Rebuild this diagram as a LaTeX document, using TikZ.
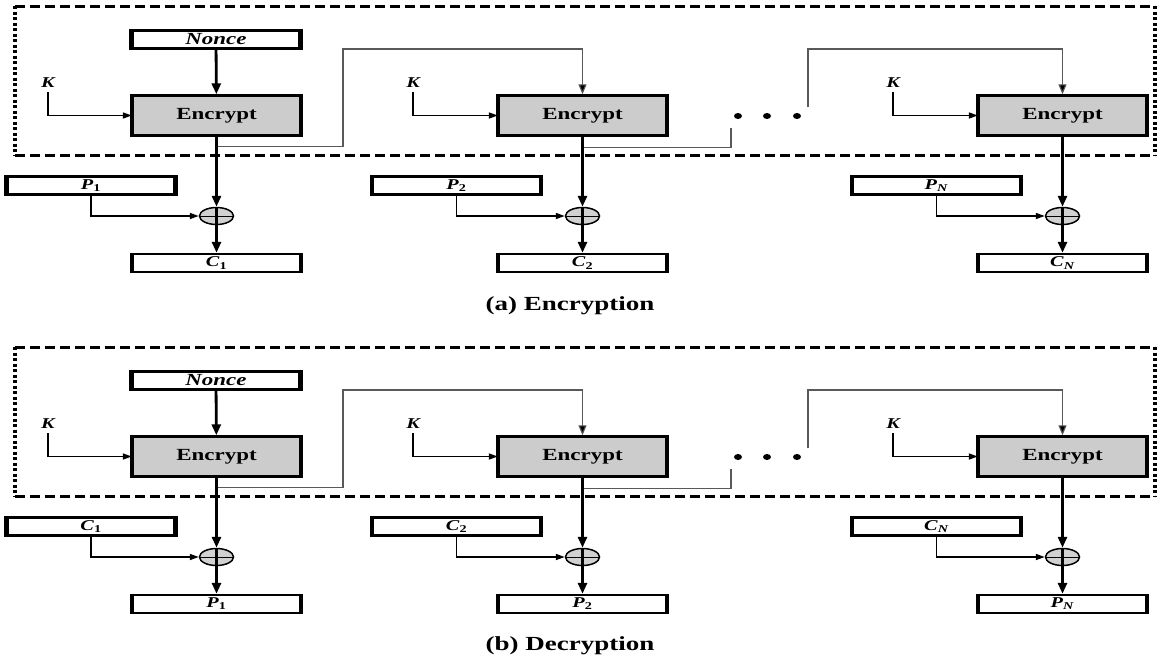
\documentclass[tikz,border=0pt]{standalone}
\usepackage{fontspec}
\setmainfont{Liberation Serif}[FakeStretch=1.35]
\usepackage{tikz}
\usetikzlibrary{arrows.meta, positioning, shapes.geometric, calc}

\begin{document}
\begin{tikzpicture}[x=1pt, y=-1pt,
  box/.style={draw, line width=2.4pt, minimum width=167pt, minimum height=18pt, inner sep=0pt,
    font=\fontsize{15}{15}\selectfont\bfseries,
    append after command={(\tikzlastnode.north west) edge[draw, line width=4pt] (\tikzlastnode.south west)
      (\tikzlastnode.north east) edge[draw, line width=4pt] (\tikzlastnode.south east)}},
  noncebox/.style={box, font=\fontsize{17}{17}\selectfont\bfseries\itshape},
  encbox/.style={box, fill=black!20, minimum height=40pt, font=\fontsize{17}{17}\selectfont\bfseries},
  xor/.style={ellipse, draw, line width=1.5pt, fill=black!18, minimum width=34pt, minimum height=17pt,
    inner sep=0pt, path picture={\draw[line width=1pt] (path picture bounding box.west) -- (path picture bounding box.east);}},
  klabel/.style={font=\fontsize{15}{15}\selectfont\bfseries\itshape, inner sep=1pt},
  caption/.style={font=\fontsize{20}{20}\selectfont\bfseries},
  dot/.style={ellipse, fill, inner sep=0pt, minimum width=8pt, minimum height=6pt},
  arr/.style={-{Triangle[length=9pt, width=6pt]}, line width=1.6pt},
  bigarr/.style={-{Triangle[length=11pt, width=9pt]}, line width=2.8pt},
  chainline/.style={draw=black!65, line width=1.1pt},
  chain/.style={chainline, -{Triangle[length=10pt, width=8pt, fill=black]}},
  frame/.style={line width=3pt, dash pattern=on 10pt off 5pt},
  frameside/.style={line width=4pt, dash pattern=on 3pt off 2.5pt},
]
\useasboundingbox (0,0) rectangle (1159,656);

% ===== (a) Encryption =====
\draw[frame] (15,6) -- (1155,6);
\draw[frame] (15,155) -- (1155,155);
\draw[frameside] (15,6) -- (15,155);
\draw[frameside] (1155,6) -- (1155,155);

\node[noncebox] (en) at (216,39.5) {Nonce};

\node[encbox] (ee1) at (216.5,115.5) {Encrypt};
\node[encbox] (ee2) at (582.5,115.5) {Encrypt};
\node[encbox] (ee3) at (1062.5,115.5) {Encrypt};

\node[klabel] (ek1) at (48,83) {K};
\node[klabel] (ek2) at (413,83) {K};
\node[klabel] (ek3) at (893,83) {K};

\node[box] (ep1) at (91,185.5) {\textit{P}\textsubscript{1}};
\node[box] (ep2) at (456.5,185.5) {\textit{P}\textsubscript{2}};
\node[box] (ep3) at (936.5,185.5) {\textit{P}\textsubscript{\textit{N}}};

\node[xor] (ex1) at (216.5,216) {};
\node[xor] (ex2) at (582.5,216) {};
\node[xor] (ex3) at (1062.5,216) {};

\node[box] (ec1) at (216.5,263) {\textit{C}\textsubscript{1}};
\node[box] (ec2) at (582.5,263) {\textit{C}\textsubscript{2}};
\node[box] (ec3) at (1062.5,263) {\textit{C}\textsubscript{\textit{N}}};

\node[dot] (ed1) at (738,116) {};
\node[dot] (ed2) at (767,116) {};
\node[dot] (ed3) at (797,116) {};

\coordinate (ej1) at (343,49);
\coordinate (ej2) at (731,128);
\coordinate (ej3) at (808,107);
\coordinate (ej4) at (808,49);

\draw[bigarr] (en) -- (ee1);
\draw[arr] ([yshift=-3pt]ek1.south) |- (ee1.west);
\draw[arr] ([yshift=-3pt]ek2.south) |- (ee2.west);
\draw[arr] ([yshift=-3pt]ek3.south) |- (ee3.west);

% counter chain
\draw[chain] ([yshift=-10pt]ee1.south) -| (ej1) -| (ee2.north);
\draw[chainline] ([yshift=-11pt]ee2.south) -| (ej2);
\draw[chain] (ej3) -- (ej4) -| (ee3.north);

\draw[bigarr] (ee1) -- (ex1);
\draw[bigarr] (ee2) -- (ex2);
\draw[bigarr] (ee3) -- (ex3);
\draw[bigarr] (ex1.north) -- (ec1);
\draw[bigarr] (ex2.north) -- (ec2);
\draw[bigarr] (ex3.north) -- (ec3);

\draw[arr] (ep1.south) |- (ex1.west);
\draw[arr] (ep2.south) |- (ex2.west);
\draw[arr] (ep3.south) |- (ex3.west);

\node[caption] (ecap) at (570,306) {(a) Encryption};

% ===== (b) Decryption =====
\draw[frame] (15,347) -- (1155,347);
\draw[frame] (15,496) -- (1155,496);
\draw[frameside] (15,347) -- (15,496);
\draw[frameside] (1155,347) -- (1155,496);

\node[noncebox] (dn) at (216,380.5) {Nonce};

\node[encbox] (de1) at (216.5,456.5) {Encrypt};
\node[encbox] (de2) at (582.5,456.5) {Encrypt};
\node[encbox] (de3) at (1062.5,456.5) {Encrypt};

\node[klabel] (dk1) at (48,424) {K};
\node[klabel] (dk2) at (413,424) {K};
\node[klabel] (dk3) at (893,424) {K};

\node[box] (dc1) at (91,526.5) {\textit{C}\textsubscript{1}};
\node[box] (dc2) at (456.5,526.5) {\textit{C}\textsubscript{2}};
\node[box] (dc3) at (936.5,526.5) {\textit{C}\textsubscript{\textit{N}}};

\node[xor] (dx1) at (216.5,557) {};
\node[xor] (dx2) at (582.5,557) {};
\node[xor] (dx3) at (1062.5,557) {};

\node[box] (dp1) at (216.5,604) {\textit{P}\textsubscript{1}};
\node[box] (dp2) at (582.5,604) {\textit{P}\textsubscript{2}};
\node[box] (dp3) at (1062.5,604) {\textit{P}\textsubscript{\textit{N}}};

\node[dot] (dd1) at (738,457) {};
\node[dot] (dd2) at (767,457) {};
\node[dot] (dd3) at (797,457) {};

\coordinate (dj1) at (343,390);
\coordinate (dj2) at (731,469);
\coordinate (dj3) at (808,448);
\coordinate (dj4) at (808,390);

\draw[bigarr] (dn) -- (de1);
\draw[arr] ([yshift=-3pt]dk1.south) |- (de1.west);
\draw[arr] ([yshift=-3pt]dk2.south) |- (de2.west);
\draw[arr] ([yshift=-3pt]dk3.south) |- (de3.west);

% counter chain
\draw[chain] ([yshift=-10pt]de1.south) -| (dj1) -| (de2.north);
\draw[chainline] ([yshift=-11pt]de2.south) -| (dj2);
\draw[chain] (dj3) -- (dj4) -| (de3.north);

\draw[bigarr] (de1) -- (dx1);
\draw[bigarr] (de2) -- (dx2);
\draw[bigarr] (de3) -- (dx3);
\draw[bigarr] (dx1.north) -- (dp1);
\draw[bigarr] (dx2.north) -- (dp2);
\draw[bigarr] (dx3.north) -- (dp3);

\draw[arr] (dc1.south) |- (dx1.west);
\draw[arr] (dc2.south) |- (dx2.west);
\draw[arr] (dc3.south) |- (dx3.west);

\node[caption] (dcap) at (570,646) {(b) Decryption};

\end{tikzpicture}
\end{document}
